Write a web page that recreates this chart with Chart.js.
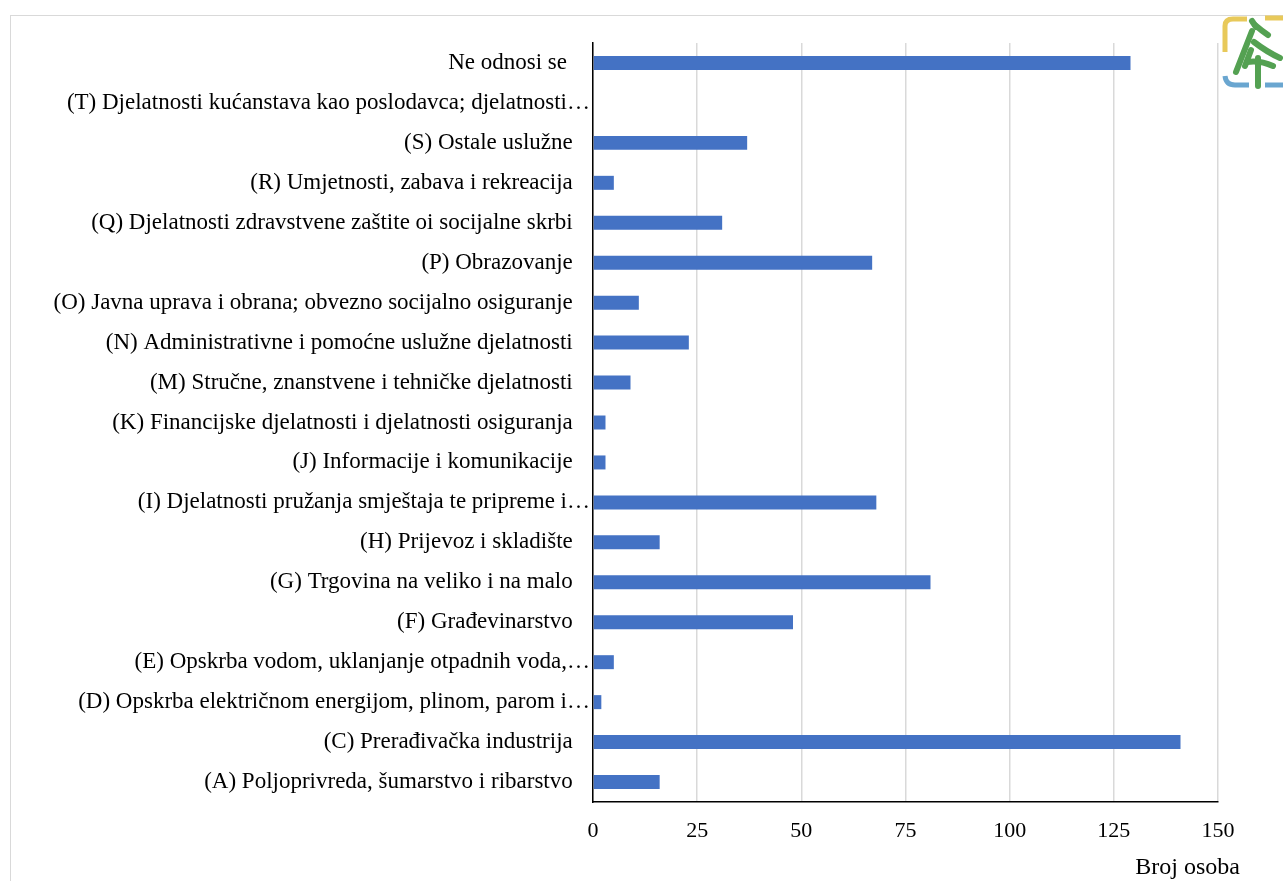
<!DOCTYPE html>
<html>
<head>
<meta charset="utf-8">
<script src="https://cdn.jsdelivr.net/npm/chart.js@4/dist/chart.umd.min.js"></script>
<style>
  html, body { margin: 0; padding: 0; background: #fff; overflow: hidden; }
  #frame { position: absolute; left: 10px; top: 15px; width: 1300px; height: 900px; border: 1px solid #d9d9d9; }
  #wrap { position: absolute; left: 0; top: 0; width: 1283px; height: 881px; }
  #logo { position: absolute; left: 1215px; top: 10px; }
</style>
</head>
<body>
<div id="frame"></div>
<div id="wrap"><canvas id="chart"></canvas></div>
<svg id="logo" width="68" height="85" viewBox="0 0 68 85">
  <path d="M10 42 V16 Q10 9 18 9 H32" fill="none" stroke="#e8c95a" stroke-width="5"/>
  <path d="M50 8 H68" fill="none" stroke="#e8c95a" stroke-width="5"/>
  <path d="M10 66 Q11 75 20 75 H34" fill="none" stroke="#6aa6d0" stroke-width="5"/>
  <path d="M50 75 H68" fill="none" stroke="#6aa6d0" stroke-width="5"/>
  <g fill="none" stroke="#54a152" stroke-width="6" stroke-linecap="round">
    <path d="M37 11 L41 17"/>
    <path d="M37 21 L21 62"/>
    <path d="M40 15 Q47 21 53 25"/>
    <path d="M39 32 Q52 42 65 48"/>
    <path d="M36 40 L30 56"/>
    <path d="M32 52 Q45 50 58 56"/>
    <path d="M43 48 V76"/>
  </g>
</svg>
<script>
// Kategorije (odozgo prema dolje)
const categories = [
  'Ne odnosi se ',
  '(T) Djelatnosti kućanstava kao poslodavca; djelatnosti…',
  '(S) Ostale uslužne',
  '(R) Umjetnosti, zabava i rekreacija',
  '(Q) Djelatnosti zdravstvene zaštite oi socijalne skrbi',
  '(P) Obrazovanje',
  '(O) Javna uprava i obrana; obvezno socijalno osiguranje',
  '(N) Administrativne i pomoćne uslužne djelatnosti',
  '(M) Stručne, znanstvene i tehničke djelatnosti',
  '(K) Financijske djelatnosti i djelatnosti osiguranja',
  '(J) Informacije i komunikacije',
  '(I) Djelatnosti pružanja smještaja te pripreme i…',
  '(H) Prijevoz i skladište',
  '(G) Trgovina na veliko i na malo',
  '(F) Građevinarstvo',
  '(E) Opskrba vodom, uklanjanje otpadnih voda,…',
  '(D) Opskrba električnom energijom, plinom, parom i…',
  '(C) Prerađivačka industrija',
  '(A) Poljoprivreda, šumarstvo i ribarstvo',
];

// Broj osoba po djelatnosti
const brojOsoba = [129, 0, 37, 5, 31, 67, 11, 23, 9, 3, 3, 68, 16, 81, 48, 5, 2, 141, 16];

// Os X
const xTicks = [0, 25, 50, 75, 100, 125, 150];
const xTitle = 'Broj osoba';

const FONT = "'Liberation Serif', 'DejaVu Serif', serif";

// Naslov osi X desno ispod osi
const axisTitlePlugin = {
  id: 'axisTitle',
  afterDraw(chart) {
    const ctx = chart.ctx;
    ctx.save();
    ctx.font = "24px " + FONT;
    ctx.fillStyle = '#000';
    ctx.textAlign = 'right';
    ctx.textBaseline = 'middle';
    ctx.fillText(xTitle, chart.chartArea.right + 22, 868);
    ctx.restore();
  },
};

new Chart(document.getElementById('chart'), {
  type: 'bar',
  data: {
    labels: categories,
    datasets: [{
      data: brojOsoba,
      backgroundColor: '#4472C4',
      barPercentage: 0.7,
      categoryPercentage: 0.5,
    }],
  },
  plugins: [axisTitlePlugin],
  options: {
    indexAxis: 'y',
    responsive: true,
    maintainAspectRatio: false,
    animation: false,
    layout: { padding: { top: 43, right: 65, left: 0, bottom: 0 } },
    plugins: {
      legend: { display: false },
      tooltip: { enabled: false },
    },
    scales: {
      x: {
        min: 0,
        max: 150,
        afterBuildTicks: (s) => { s.ticks = xTicks.map(v => ({ value: v })); },
        afterFit: (s) => { s.height = 79; },
        ticks: {
          color: '#000',
          font: { family: FONT, size: 22 },
          padding: 16,
          maxRotation: 0,
        },
        grid: { color: '#d9d9d9', lineWidth: 1.5, drawTicks: false },
        border: { color: '#000', width: 1.5 },
      },
      y: {
        afterFit: (s) => { s.width = 593; },
        ticks: {
          color: '#000',
          font: { family: FONT, size: 23 },
          padding: 3,
          autoSkip: false,
          // skraćene oznake dopiru do osi, ostale su odmaknute
          callback: (v, i) => categories[i].endsWith('…') ? categories[i] : categories[i] + '   ',
        },
        grid: { display: false, drawTicks: false },
        border: { color: '#000', width: 1.5 },
      },
    },
  },
});
</script>
</body>
</html>
